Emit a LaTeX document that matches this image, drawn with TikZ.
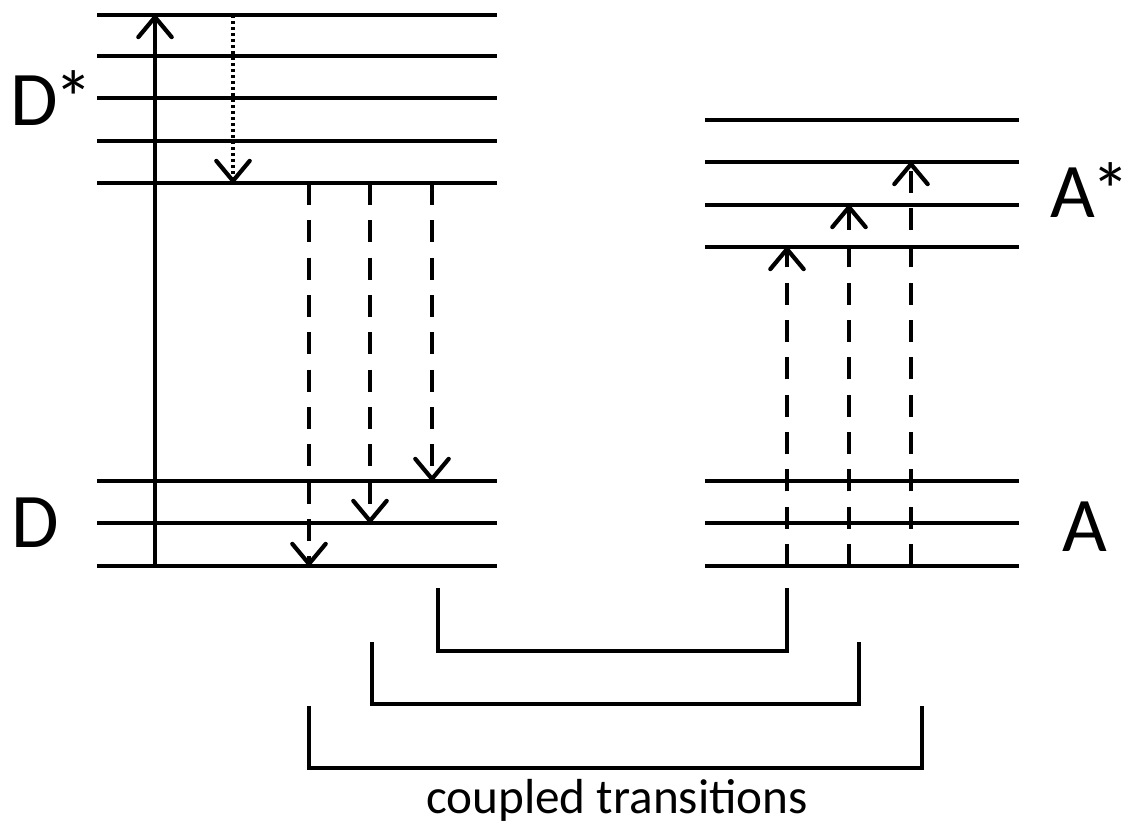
\documentclass[tikz,border=0pt]{standalone}
\usepackage{fontspec}
\setmainfont{Carlito}
\usetikzlibrary{arrows.meta}
\begin{document}
\begin{tikzpicture}[x=0.03cm,y=-0.03cm,
  level/.style={line width=2.8pt},
  trans/.style={line width=3pt,-{Straight Barb[length=0.6cm,width=1cm,line width=3.6pt,round]}},
  coupledash/.style={dash pattern=on 0.66cm off 0.46cm},
  relaxdot/.style={dash pattern=on 0.1cm off 0.08cm},
  bracket/.style={line width=2.8pt},
  biglabel/.style={font=\fontsize{66}{66}\selectfont,inner sep=0pt},
  caption/.style={font=\fontsize{42}{42}\selectfont,inner sep=0pt}]
\useasboundingbox (0,0) rectangle (1135,826);

% donor levels
\foreach \y in {15,56,98,141,183,481,523,566}
  \draw[level] (97,\y) -- (497,\y);
% acceptor levels
\foreach \y in {120,162,205,247,481,523,566}
  \draw[level] (705,\y) -- (1019,\y);

% labels
\node[biglabel] (dstar) at (52,98) {D\kern-3pt*};
\node[biglabel] (d) at (35,523) {D};
\node[biglabel] (astar) at (1090,190) {A\kern-3pt*};
\node[biglabel] (a) at (1085,527) {A};
\node[caption] (cap) at (617,800) {coupled transitions};

% transition end points
\coordinate (exc0) at (155,566);  \coordinate (exc1) at (155,15);
\coordinate (rel0) at (233,15);   \coordinate (rel1) at (233,183);
\coordinate (d1a) at (309,183);   \coordinate (d1b) at (309,566);
\coordinate (d2a) at (370,183);   \coordinate (d2b) at (370,523);
\coordinate (d3a) at (432,183);   \coordinate (d3b) at (432,481);
\coordinate (a1a) at (787,566);   \coordinate (a1b) at (787,247);
\coordinate (a2a) at (849,566);   \coordinate (a2b) at (849,205);
\coordinate (a3a) at (911,566);   \coordinate (a3b) at (911,162);

% excitation and vibrational relaxation
\draw[trans] (exc0) -- (exc1);
\draw[trans,relaxdot] (rel0) -- (rel1);

% donor de-excitations
\draw[trans,coupledash] (d1a) -- (d1b);
\draw[trans,coupledash] (d2a) -- (d2b);
\draw[trans,coupledash] (d3a) -- (d3b);
% acceptor excitations
\draw[trans,coupledash] (a1a) -- (a1b);
\draw[trans,coupledash] (a2a) -- (a2b);
\draw[trans,coupledash] (a3a) -- (a3b);

% brackets pairing the coupled transitions
\coordinate (b1l) at (438,588); \coordinate (b1r) at (787,588);
\coordinate (b2l) at (372,642); \coordinate (b2r) at (859,642);
\coordinate (b3l) at (309,706); \coordinate (b3r) at (922,706);
\draw[bracket] (b1l) -- ++(0,63) -| (b1r);
\draw[bracket] (b2l) -- ++(0,62) -| (b2r);
\draw[bracket] (b3l) -- ++(0,62) -| (b3r);
\end{tikzpicture}
\end{document}
